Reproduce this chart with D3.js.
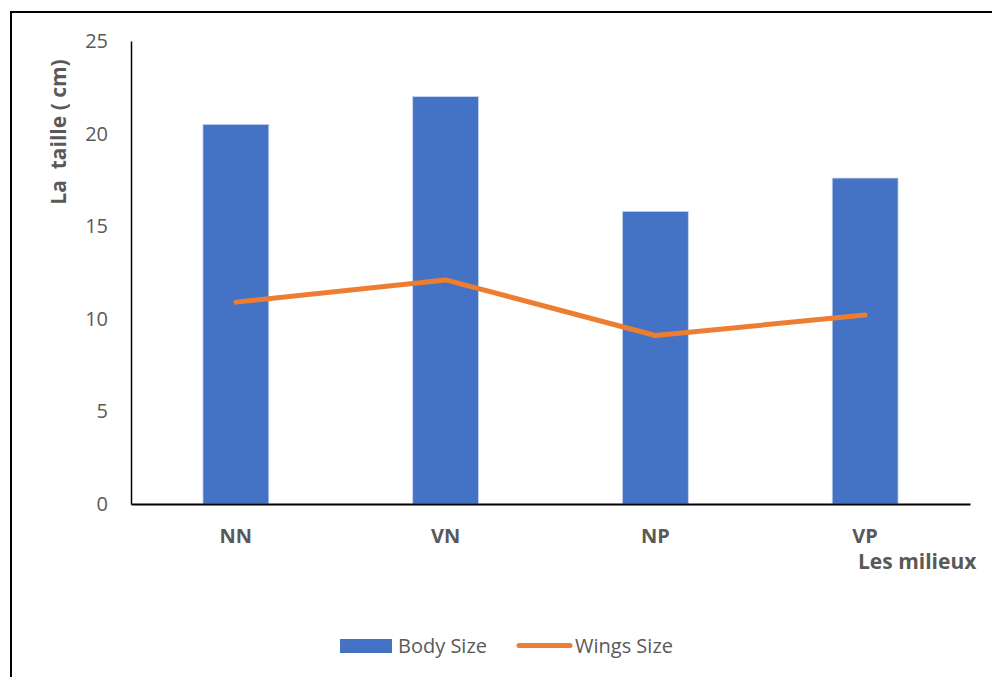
<!DOCTYPE html>
<html>
<head>
<meta charset="utf-8">
<script src="https://cdn.jsdelivr.net/npm/d3@7"></script>
<style>
  body { margin: 0; background: #fff; }
  text { font-family: "Open Sans", "Noto Sans", sans-serif; fill: #595959; }
</style>
</head>
<body>
<div id="chart"></div>
<script>
const categories = ["NN", "VN", "NP", "VP"];
const bodySize = [20.5, 22.0, 15.8, 17.6];
const wingsSize = [10.9, 12.1, 9.1, 10.2];
const yTicks = [0, 5, 10, 15, 20, 25];

const W = 992, H = 677;
const margin = { top: 41, right: 22, bottom: 173, left: 131 };
const width = W - margin.left - margin.right;
const height = H - margin.top - margin.bottom;

const svg = d3.select("#chart").append("svg")
  .attr("width", W)
  .attr("height", H);

// outer frame (right and bottom run off the picture)
svg.append("rect")
  .attr("x", 11).attr("y", 12)
  .attr("width", 1000).attr("height", 700)
  .attr("fill", "none")
  .attr("stroke", "#000")
  .attr("stroke-width", 2);

const chart = svg.append("g")
  .attr("transform", `translate(${margin.left},${margin.top})`);

const x = d3.scaleBand()
  .domain(categories)
  .range([0, width])
  .paddingInner(0.686)
  .paddingOuter(0.343);

const xc = d => x(d) + x.bandwidth() / 2;

const y = d3.scaleLinear()
  .domain([0, 25])
  .range([height, 0]);

// bars
chart.selectAll(".bar")
  .data(categories.map((c, i) => ({ c, v: bodySize[i] })))
  .enter().append("rect")
  .attr("class", "bar")
  .attr("x", d => x(d.c))
  .attr("y", d => y(d.v))
  .attr("width", x.bandwidth())
  .attr("height", d => y(0) - y(d.v))
  .attr("fill", "#4472C4")
  .attr("stroke", "#c9d6ef")
  .attr("stroke-width", 0.8);

// y axis
const yAxis = chart.append("g")
  .call(d3.axisLeft(y).tickValues(yTicks).tickSize(0).tickPadding(23));
yAxis.select(".domain").attr("stroke", "#000").attr("stroke-width", 1.5);
yAxis.selectAll("text")
  .style("font-size", "20px")
  .attr("fill", "#595959");

// x axis
const xAxis = chart.append("g")
  .attr("transform", `translate(0,${height})`)
  .call(d3.axisBottom(x).tickSize(0).tickPadding(25));
xAxis.select(".domain").attr("stroke", "#000").attr("stroke-width", 2);
xAxis.selectAll("text")
  .style("font-size", "20px")
  .style("font-weight", "bold")
  .attr("fill", "#595959");

// line
const line = d3.line()
  .x((d, i) => xc(categories[i]))
  .y(d => y(d));

chart.append("path")
  .datum(wingsSize)
  .attr("d", line)
  .attr("fill", "none")
  .attr("stroke", "#ED7D31")
  .attr("stroke-width", 5)
  .attr("stroke-linecap", "round")
  .attr("stroke-linejoin", "round");

// axis titles
svg.append("text")
  .attr("transform", "translate(66,132) rotate(-90)")
  .attr("text-anchor", "middle")
  .style("font-size", "21px")
  .style("font-weight", "bold")
  .style("white-space", "pre")
  .text("La  taille ( cm)");

svg.append("text")
  .attr("x", 858)
  .attr("y", 569)
  .style("font-size", "21px")
  .style("font-weight", "bold")
  .text("Les milieux");

// legend
const legend = svg.append("g");
legend.append("rect")
  .attr("x", 340).attr("y", 639)
  .attr("width", 52).attr("height", 14)
  .attr("fill", "#4472C4");
legend.append("text")
  .attr("x", 398).attr("y", 653)
  .style("font-size", "20px")
  .text("Body Size");
legend.append("line")
  .attr("x1", 519).attr("x2", 570)
  .attr("y1", 645.5).attr("y2", 645.5)
  .attr("stroke", "#ED7D31")
  .attr("stroke-width", 5)
  .attr("stroke-linecap", "round");
legend.append("text")
  .attr("x", 575).attr("y", 653)
  .style("font-size", "20px")
  .text("Wings Size");
</script>
</body>
</html>
